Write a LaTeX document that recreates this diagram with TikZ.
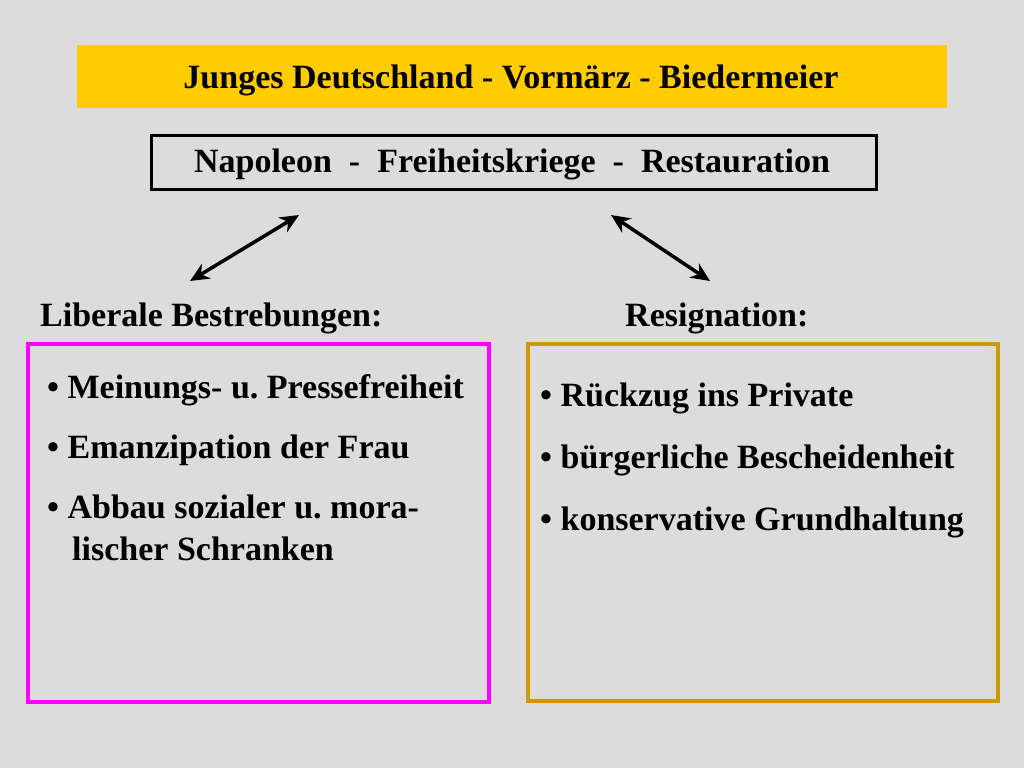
\documentclass[tikz,border=0pt]{standalone}
\usepackage{fontspec}
\setmainfont{Liberation Serif}
\usetikzlibrary{arrows.meta}
\frenchspacing
\definecolor{bg}{RGB}{220,220,220}
\definecolor{titleyellow}{RGB}{255,204,0}
\definecolor{pinkbox}{RGB}{255,0,255}
\definecolor{goldbox}{RGB}{204,153,0}
\tikzset{
  txt/.style={anchor=base west, inner sep=0pt, font=\fontsize{34}{40}\selectfont\bfseries},
  ctxt/.style={anchor=base, inner sep=0pt, font=\fontsize{34}{40}\selectfont\bfseries},
  arr/.style={line width=3.5pt, {Stealth[length=19pt,width=17pt]}-{Stealth[length=19pt,width=17pt]}}
}
\begin{document}
\begin{tikzpicture}[x=1pt,y=-1pt]
\fill[bg] (0,0) rectangle (1024,768);
\useasboundingbox (0,0) rectangle (1024,768);
% title
\node[fill=titleyellow, minimum width=870pt, minimum height=63pt, inner sep=0pt, anchor=north west] (title) at (77,45) {};
\node[ctxt] (titletxt) at (511,88) {Junges Deutschland - Vormärz - Biedermeier};
% napoleon box
\node[draw, line width=3pt, minimum width=725pt, minimum height=54pt, inner sep=0pt, anchor=north west] (nap) at (150,134) {};
\node[ctxt] (naptxt) at (512,172) {Napoleon\ \ -\ \ Freiheitskriege\ \ -\ \ Restauration};
% arrows
\coordinate (l1) at (190,281);
\coordinate (l2) at (299,215);
\coordinate (r1) at (611,215);
\coordinate (r2) at (710,281);
\draw[arr] (l1) -- (l2);
\draw[arr] (r1) -- (r2);
% headings
\node[txt] (lib) at (40,326) {Liberale Bestrebungen:};
\node[txt] (res) at (625,326) {Resignation:};
% boxes
\draw[pinkbox, line width=4pt] (28,344) rectangle (489,702);
\node[inner sep=0pt] (leftbox) at (258,523) {};
\draw[goldbox, line width=4pt] (528,344) rectangle (998,701);
\node[inner sep=0pt] (rightbox) at (763,523) {};
% left items
\node[txt] (a1) at (47,398) {• Meinungs- u. Pressefreiheit};
\node[txt] (a2) at (47,458) {• Emanzipation der Frau};
\node[txt] (a3) at (47,518) {• Abbau sozialer u. mora-};
\node[txt] (a4) at (72,560) {lischer Schranken};
% right items
\node[txt] (b1) at (540,406) {• Rückzug ins Private};
\node[txt] (b2) at (540,468) {• bürgerliche Bescheidenheit};
\node[txt] (b3) at (540,530) {• konservative Grundhaltung};
\end{tikzpicture}
\end{document}
